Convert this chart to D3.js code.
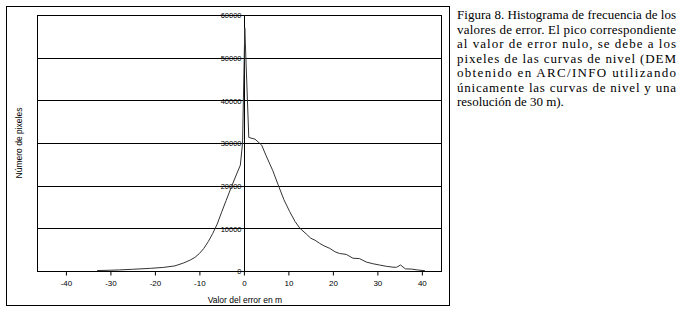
<!DOCTYPE html>
<html>
<head>
<meta charset="utf-8">
<script src="https://cdn.jsdelivr.net/npm/d3@7"></script>
<style>
  body { margin: 0; background: #fff; }
  svg { display: block; }
</style>
</head>
<body>
<div class="chart"></div>
<script>
// valor del error (m) y numero de pixeles
const errorValues = [-33, -30, -28, -25, -21, -18, -15.5, -13.5, -12, -11, -10, -9, -8, -7, -6, -5, -4, -3, -2, -0.8,
  -0.3, 0.2, 1.1, 2.5, 4, 5, 6.5, 7.7, 9, 10.3, 11.5, 12.6, 14, 15, 16, 17, 18, 19.3, 20.5, 21.5, 23, 24.5, 26,
  27.5, 29, 30.5, 32, 33.5, 34.3, 35.2, 36.3, 37.7, 39, 40.7]
const pixelCounts = [100, 180, 250, 400, 620, 850, 1200, 1900, 2600, 3200, 4100, 5300, 6900, 8800, 11000, 13800, 16500, 19200, 21800, 24800,
  30000, 57000, 31300, 30900, 29500, 27000, 23500, 20200, 16700, 13900, 11600, 10000, 8700, 7700, 7200, 6500, 5900, 5300, 4500, 4100, 3900, 3000, 2900,
  2100, 1700, 1400, 1100, 900, 870, 1400, 500, 450, 250, 60]
const yTicks = [0, 10000, 20000, 30000, 40000, 50000, 60000]
const xTicks = [-40, -30, -20, -10, 0, 10, 20, 30, 40]
const captionLines = [
  "Figura 8. Histograma de frecuencia de los",
  "valores de error. El pico correspondiente",
  "al valor de error nulo, se debe a los",
  "pixeles de las curvas de nivel (DEM",
  "obtenido en ARC/INFO utilizando",
  "únicamente las curvas de nivel y una",
  "resolución de 30 m)."
]

const width = 684, height = 311
const margin = ({ top: 15, right: 243, bottom: 40, left: 37 })

const data = errorValues.map((e, i) => ({ e: e, v: pixelCounts[i] }))

const svg = d3.select(".chart").append("svg")
  .attr("width", width)
  .attr("height", height)

// marco exterior
svg.append("rect")
  .attr("x", 6.5).attr("y", 6.5)
  .attr("width", 443).attr("height", 299)
  .attr("fill", "none")
  .attr("stroke", "#000")

const x = d3.scaleLinear()
  .domain([-46.5, 44.3])
  .range([margin.left, width - margin.right])

const y = d3.scaleLinear()
  .domain([0, 60000])
  .range([height - margin.bottom, margin.top])

// lineas de cuadricula
svg.append("g")
  .selectAll("line")
  .data(yTicks)
  .join("line")
  .attr("x1", margin.left)
  .attr("x2", width - margin.right)
  .attr("y1", d => Math.round(y(d)) + 0.5)
  .attr("y2", d => Math.round(y(d)) + 0.5)
  .attr("stroke", "#000")

// marco del grafico
svg.append("rect")
  .attr("x", margin.left + 0.5)
  .attr("y", Math.round(y(60000)) + 0.5)
  .attr("width", width - margin.right - margin.left)
  .attr("height", Math.round(y(0)) - Math.round(y(60000)))
  .attr("fill", "none")
  .attr("stroke", "#000")

// eje vertical en x = 0
svg.append("line")
  .attr("x1", Math.round(x(0)) + 0.5)
  .attr("x2", Math.round(x(0)) + 0.5)
  .attr("y1", y(0))
  .attr("y2", y(60000))
  .attr("stroke", "#000")

const xAxis = g => g
  .attr("transform", `translate(0,${Math.round(y(0)) + 0.5})`)
  .call(d3.axisBottom(x)
    .tickValues(xTicks)
    .tickSize(4)
    .tickPadding(5)
    .tickFormat(d => String(d)))
  .call(g => g.select(".domain").remove())
  .call(g => g.selectAll("text")
    .attr("font-family", "'Liberation Sans', Arial, sans-serif")
    .attr("font-size", "8px")
    .attr("fill", "#000"))

svg.append("g").call(xAxis)

const yAxis = g => g
  .attr("transform", `translate(${Math.round(x(0)) + 0.5},0.5)`)
  .call(d3.axisLeft(y)
    .tickValues(yTicks)
    .tickSize(0)
    .tickPadding(3)
    .tickFormat(d => String(d)))
  .call(g => g.select(".domain").remove())
  .call(g => g.selectAll("text")
    .attr("font-family", "'Liberation Sans', Arial, sans-serif")
    .attr("font-size", "7.5px")
    .attr("fill", "#000"))

svg.append("g").call(yAxis)

// curva
svg.append("path")
  .datum(data)
  .attr("fill", "none")
  .attr("stroke", "#333")
  .attr("stroke-width", 1)
  .attr("stroke-linejoin", "round")
  .attr("d", d3.line()
    .x(d => x(d.e))
    .y(d => y(d.v)))

// titulos de los ejes
svg.append("text")
  .attr("x", x(0) + 1)
  .attr("y", 303)
  .attr("text-anchor", "middle")
  .attr("font-family", "'Liberation Sans', Arial, sans-serif")
  .attr("font-size", "8.5px")
  .text("Valor del error en m")

svg.append("text")
  .attr("transform", "translate(22,143) rotate(-90)")
  .attr("text-anchor", "middle")
  .attr("font-family", "'Liberation Sans', Arial, sans-serif")
  .attr("font-size", "8.5px")
  .text("Número de pixeles")

// pie de figura, justificado
const capX = 457, capW = 219
const caption = svg.append("g")
  .attr("font-family", "'Liberation Serif', 'Times New Roman', serif")
  .attr("font-size", "13px")
  .attr("fill", "#000")

captionLines.forEach((line, i) => {
  const t = caption.append("text")
    .attr("x", capX)
    .attr("y", 19 + i * 14.5)
    .text(line)
  if (i < captionLines.length - 1) {
    t.attr("textLength", capW).attr("lengthAdjust", "spacing")
  }
})
</script>
</body>
</html>
